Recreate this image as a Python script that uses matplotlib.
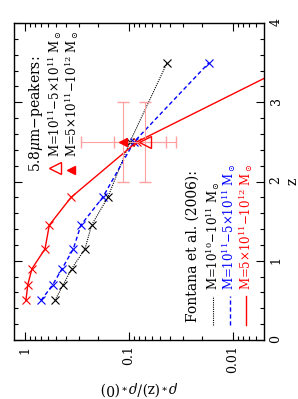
import matplotlib
matplotlib.use('Agg')
import matplotlib.pyplot as plt
from matplotlib.ticker import FixedLocator, LogLocator, MultipleLocator, NullFormatter

plt.rcParams['font.family'] = ['DejaVu Serif']
plt.rcParams['mathtext.fontset'] = 'dejavuserif'

# Fontana et al. (2006) mass density evolution
z_bins = [0.5, 0.7, 0.9, 1.15, 1.45, 1.8, 2.5, 3.5]
rho_low = [0.515, 0.428, 0.356, 0.265, 0.229, 0.160, 0.098, 0.043]
rho_mid = [0.70, 0.54, 0.44, 0.343, 0.29, 0.179, 0.0895, 0.017]
rho_high = [0.98, 0.94, 0.857, 0.642, 0.584, 0.361, 0.084, 0.0025]

# 5.8um peakers
pk_z = 2.5
pk_zerr = 0.5
pk_open = 0.0702
pk_open_lim = [0.0353, 0.139]
pk_fill = 0.1135
pk_fill_lim = [0.044, 0.289]

lab_low = r'M=10$^{10}$$-$10$^{11}$ M$_\odot$'
lab_mid = r'M=10$^{11}$$-$5$\times$10$^{11}$ M$_\odot$'
lab_high = r'M=5$\times$10$^{11}$$-$10$^{12}$ M$_\odot$'

fig = plt.figure(figsize=(2.98, 3.99), dpi=100)
ax = fig.add_axes([14/298, 59/399, 250/298, 317/399])
ax.set_xscale('log')
ax.set_xlim(1.276, 0.00504)
ax.set_ylim(0, 4)

ax.plot(rho_low, z_bins, color='k', ls=(0, (1, 1)), lw=0.8, marker='x', ms=6, mew=0.8)
ax.plot(rho_mid, z_bins, color='blue', ls=(0, (3, 2)), lw=1.0, marker='x', ms=6, mew=0.8)
ax.plot(rho_high, z_bins, color='red', ls='-', lw=1.0, marker='x', ms=6, mew=0.8)

ecol = '#ffa0a0'
ax.errorbar([pk_fill], [pk_z], yerr=pk_zerr,
            xerr=[[pk_fill - pk_fill_lim[0]], [pk_fill_lim[1] - pk_fill]],
            fmt='none', ecolor=ecol, elinewidth=0.8, capsize=4)
ax.errorbar([pk_open], [pk_z], yerr=pk_zerr,
            xerr=[[pk_open - pk_open_lim[0]], [pk_open_lim[1] - pk_open]],
            fmt='none', ecolor=ecol, elinewidth=0.8, capsize=4)
ax.plot([pk_open], [pk_z], marker='<', ms=9, mfc='none', mec='red', mew=1.0, ls='none')
ax.plot([pk_fill], [pk_z], marker='<', ms=6, color='red', ls='none')

# ticks
ax.xaxis.set_major_locator(FixedLocator([1, 0.1, 0.01]))
ax.set_xticklabels(['1', '0.1', '0.01'])
ax.xaxis.set_minor_locator(LogLocator(base=10, subs=range(2, 10), numticks=20))
ax.xaxis.set_minor_formatter(NullFormatter())
ax.yaxis.set_major_locator(MultipleLocator(1))
ax.yaxis.set_minor_locator(MultipleLocator(0.2))
ax.tick_params(which='both', direction='in', top=True, bottom=True, left=True, right=True,
               labelleft=False, labelright=True, labelsize=9, width=0.8)
ax.tick_params(which='major', length=6)
ax.tick_params(which='minor', length=3)
ax.tick_params(axis='x', labelrotation=90, pad=4)
ax.tick_params(axis='y', labelrotation=90, pad=4)
for s in ax.spines.values():
    s.set_linewidth(1.0)

ax.set_xlabel(r'$\rho_*(\mathrm{z})/\rho_*(0)$', rotation=180, fontsize=10, labelpad=4)
ax.yaxis.set_label_position('right')
ax.set_ylabel('z', rotation=90, fontsize=10, labelpad=2)

# legend for peakers
tr = ax.transAxes
ax.text(0.088, 0.530, r'5.8$\mu$m$-$peakers:', rotation=90, ha='center', va='bottom',
        fontsize=10, transform=tr)
ax.plot([0.164], [0.543], marker='<', ms=9, mfc='none', mec='red', mew=1.0, transform=tr)
ax.text(0.166, 0.577, lab_mid, rotation=90, ha='center', va='bottom', fontsize=8.5, transform=tr)
ax.plot([0.228], [0.536], marker='<', ms=6, color='red', transform=tr)
ax.text(0.232, 0.577, lab_high, rotation=90, ha='center', va='bottom', fontsize=8.5, transform=tr)

# legend for Fontana
ax.text(0.714, 0.057, 'Fontana et al. (2006):', rotation=90, ha='center', va='bottom',
        fontsize=10, transform=tr)
leg = [(0.796, 'k', (0, (1, 1)), 0.8, lab_low),
       (0.862, 'blue', (0, (3, 2)), 1.0, lab_mid),
       (0.928, 'red', '-', 1.0, lab_high)]
for xx, c, ls, lw, lab in leg:
    ax.plot([xx, xx], [0.047, 0.139], color=c, ls=ls, lw=lw, transform=tr)
    ax.text(xx, 0.158, lab, rotation=90, ha='center', va='bottom', fontsize=8.5,
            color=c, transform=tr)

fig.savefig('out.png', dpi=100)
